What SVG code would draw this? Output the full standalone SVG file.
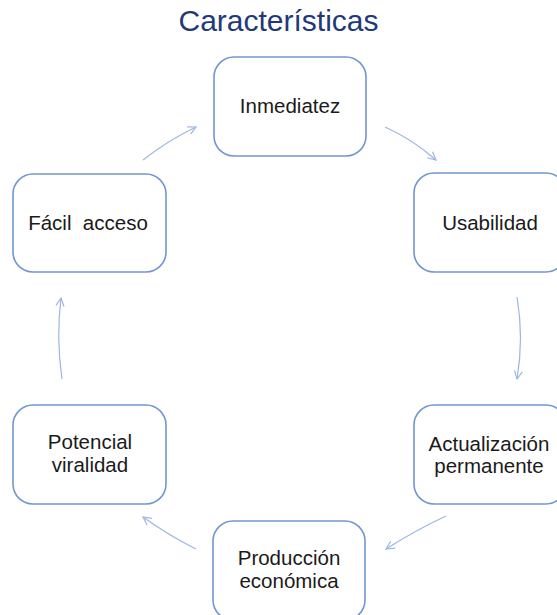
<svg xmlns="http://www.w3.org/2000/svg" width="557" height="615" viewBox="0 0 557 615">
<style>
.box{fill:#fff;stroke:#7196d1;stroke-width:1.6}
.lbl{font-family:"Liberation Sans",Arial,sans-serif;font-size:20.5px;fill:#1a1a1a;text-anchor:middle}
.title{font-family:"Liberation Sans",Arial,sans-serif;font-size:30px;fill:#1f3a78;text-anchor:middle}
.con{fill:none;stroke:#9db6e2;stroke-width:1.2}
</style>
<defs>
<marker id="ah" viewBox="0 0 10 10" refX="9" refY="5" markerWidth="10" markerHeight="10" markerUnits="userSpaceOnUse" orient="auto">
<path d="M1,1 L9,5 L1,9" fill="none" stroke="#9db6e2" stroke-width="1.2"/>
</marker>
</defs>
<rect width="557" height="615" fill="#fff"/>
<text class="title" x="278.5" y="31">Características</text>
<g id="connectors">
<path class="con" d="M385,127 Q412,139 436,160" marker-end="url(#ah)"/>
<path class="con" d="M517,297 Q524,338 517,379" marker-end="url(#ah)"/>
<path class="con" d="M446,516 Q416,530 386,549" marker-end="url(#ah)"/>
<path class="con" d="M196,549 Q168,535 143,517" marker-end="url(#ah)"/>
<path class="con" d="M62,379 Q56,338 61,298" marker-end="url(#ah)"/>
<path class="con" d="M143,160 Q167,141 196,127" marker-end="url(#ah)"/>
</g>
<g id="n1"><rect class="box" x="214" y="57" width="152" height="99" rx="20"/><text class="lbl" x="290" y="113">Inmediatez</text></g>
<g id="n2"><rect class="box" x="414" y="173" width="152" height="99" rx="20"/><text class="lbl" x="490" y="230">Usabilidad</text></g>
<g id="n3"><rect class="box" x="414" y="405" width="152" height="99" rx="20"/><text class="lbl" x="489" y="451">Actualización</text><text class="lbl" x="489" y="473">permanente</text></g>
<g id="n4"><rect class="box" x="213" y="521" width="152" height="99" rx="20"/><text class="lbl" x="289" y="565">Producción</text><text class="lbl" x="289" y="588">económica</text></g>
<g id="n5"><rect class="box" x="13" y="405" width="153" height="99" rx="20"/><text class="lbl" x="90" y="449">Potencial</text><text class="lbl" x="90" y="472">viralidad</text></g>
<g id="n6"><rect class="box" x="13" y="174" width="153" height="98" rx="20"/><text class="lbl" x="88" y="230">Fácil&#160; acceso</text></g>
</svg>
